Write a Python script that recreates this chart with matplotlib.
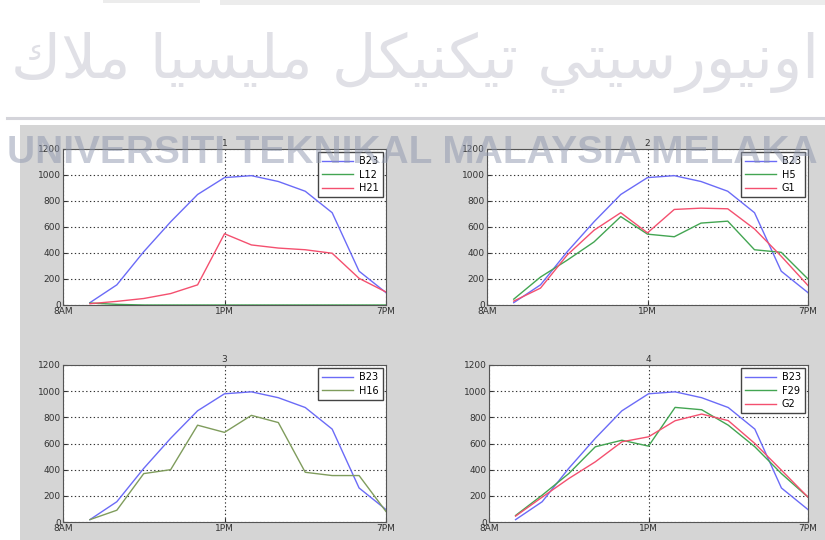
import matplotlib
matplotlib.use('Agg')
import matplotlib.pyplot as plt
import numpy as np
from matplotlib.patches import Rectangle
from matplotlib.lines import Line2D

# hourly samples between 8AM and 7PM
t = np.arange(1, 13)
tick_pos = [0, 6, 12]
tick_lab = ['8AM', '1PM', '7PM']
y_ticks = [0, 200, 400, 600, 800, 1000, 1200]

B23 = [18, 155, 410, 640, 850, 980, 995, 950, 875, 710, 260, 95]
L12 = [15, 5, 0, 0, 0, 0, 0, 0, 0, 0, 0, 0]
H21 = [10, 28, 50, 88, 155, 548, 462, 438, 425, 398, 205, 100]
H5 = [45, 215, 345, 485, 680, 545, 525, 630, 645, 425, 405, 200]
G1 = [30, 130, 385, 575, 710, 555, 735, 745, 740, 585, 375, 150]
H16 = [18, 90, 370, 400, 740, 685, 815, 760, 380, 355, 355, 80]
F29 = [50, 205, 370, 575, 625, 580, 876, 858, 740, 575, 370, 190]
G2 = [45, 190, 332, 460, 613, 651, 774, 825, 775, 600, 396, 190]

blue = '#6b6bf7'
green = '#43a552'
red = '#f4506f'
olive = '#7f9c5c'

panels = [
    ('1', [('B23', B23, blue), ('L12', L12, green), ('H21', H21, red)]),
    ('2', [('B23', B23, blue), ('H5', H5, green), ('G1', G1, red)]),
    ('3', [('B23', B23, blue), ('H16', H16, olive)]),
    ('4', [('B23', B23, blue), ('F29', F29, green), ('G2', G2, red)]),
]
# axes boxes in pixels: left, right, top, bottom
boxes = [(63, 386, 149, 305), (487, 808, 149, 305),
         (63, 386, 365, 522), (489, 808, 365, 522)]

W, H = 825, 540
fig = plt.figure(figsize=(W / 100, H / 100), dpi=100)
fig.patch.set_facecolor('white')

# page bits above the figure
fig.add_artist(Rectangle((103 / W, 1 - 3 / H), 97 / W, 3 / H, transform=fig.transFigure,
                         color='#ececec', lw=0, zorder=0))
fig.add_artist(Rectangle((220 / W, 1 - 5 / H), (W - 220) / W, 5 / H, transform=fig.transFigure,
                         color='#ececec', lw=0, zorder=0))
fig.add_artist(Line2D([7 / W, 1], [1 - 117.5 / H] * 2, transform=fig.transFigure,
                      color='#d4d4da', lw=2.2, zorder=0))
# grey figure window
fig.add_artist(Rectangle((20 / W, 0), (W - 20) / W, (H - 125) / H, transform=fig.transFigure,
                         color='#d5d5d5', lw=0, zorder=0))

for (title, series), (l, r, tp, b) in zip(panels, boxes):
    ax = fig.add_axes([l / W, 1 - b / H, (r - l) / W, (b - tp) / H])
    ax.set_zorder(1)
    for name, vals, col in series:
        ax.plot(t, vals, color=col, lw=1.0, label=name)
    ax.set_xlim(0, 12)
    ax.set_ylim(0, 1200)
    ax.set_xticks(tick_pos, tick_lab)
    ax.set_yticks(y_ticks)
    ax.grid(True, ls=(0, (1.2, 2.2)), color='#333333', lw=0.8)
    ax.tick_params(direction='in', labelsize=6.5, length=3, pad=1.5, colors='#333333')
    for s in ax.spines.values():
        s.set_color('#555555')
        s.set_linewidth(0.8)
    ax.set_title(title, fontsize=6.5, pad=2, color='#333333')
    ax.legend(loc='upper right', fontsize=7, fancybox=False, edgecolor='#444444',
              framealpha=1, handlelength=3.2, borderaxespad=0.35, labelspacing=0.35,
              handletextpad=0.6, borderpad=0.4)

# Jawi line: join letters into presentation forms, then reverse for left-to-right drawing
FORMS = {
    'ا': (0xFE8D, 0xFE8E), 'و': (0xFEED, 0xFEEE), 'ر': (0xFEAD, 0xFEAE),
    'ن': (0xFEE5, 0xFEE6, 0xFEE7, 0xFEE8), 'ي': (0xFEF1, 0xFEF2, 0xFEF3, 0xFEF4),
    'س': (0xFEB1, 0xFEB2, 0xFEB3, 0xFEB4), 'ت': (0xFE95, 0xFE96, 0xFE97, 0xFE98),
    'ك': (0xFED9, 0xFEDA, 0xFEDB, 0xFEDC), 'ل': (0xFEDD, 0xFEDE, 0xFEDF, 0xFEE0),
    'م': (0xFEE1, 0xFEE2, 0xFEE3, 0xFEE4), 'لا': (0xFEFB, 0xFEFC),
}


def shape(word):
    toks = []
    i = 0
    while i < len(word):
        if word[i:i + 2] == 'لا':
            toks.append('لا')
            i += 2
        else:
            toks.append(word[i])
            i += 1
    out = ''
    for k, c in enumerate(toks):
        f = FORMS[c]
        join_prev = k > 0 and len(FORMS[toks[k - 1]]) == 4
        join_next = k + 1 < len(toks) and len(f) == 4
        if join_prev and join_next:
            idx = 3
        elif join_prev:
            idx = 1
        elif join_next:
            idx = 2
        else:
            idx = 0
        out += chr(f[idx])
    return out


jawi = 'اونيورسيتي تيكنيكل مليسيا ملاك'
jawi_vis = ' '.join(shape(w) for w in jawi.split(' '))[::-1]
fig.text(415 / W, 1 - 78 / H, jawi_vis, fontsize=44, color='#e0e0e6',
         ha='center', va='baseline', family='DejaVu Sans', zorder=5)

fig.text(412 / W, 1 - 163 / H, 'UNIVERSITI TEKNIKAL MALAYSIA MELAKA', fontsize=28,
         fontweight='bold', family='Liberation Sans', color='#8e97ae', alpha=0.5,
         ha='center', va='baseline', zorder=10)

fig.savefig('out.png', dpi=100)
